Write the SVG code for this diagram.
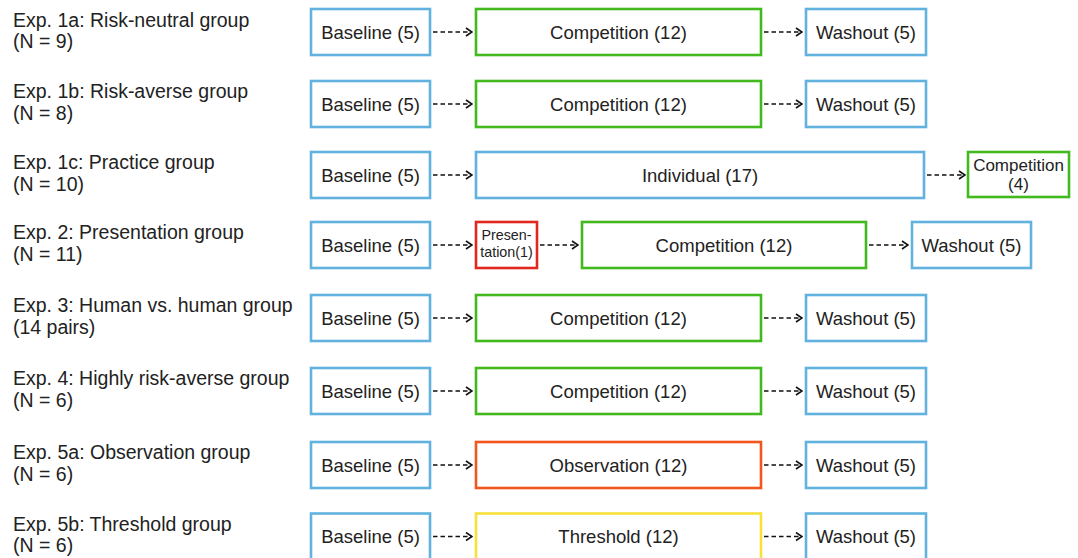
<svg xmlns="http://www.w3.org/2000/svg" width="1078" height="558" viewBox="0 0 1078 558">
<defs>
<marker id="arr" viewBox="0 0 10 10" refX="9" refY="5" markerWidth="10" markerHeight="10" markerUnits="userSpaceOnUse" orient="auto">
<path d="M3,1 L9,5 L3,9" fill="none" stroke="#111" stroke-width="1.6"/>
</marker>
<style>
text{font-family:"Liberation Sans",Arial,sans-serif;fill:#222}
.lab{font-size:19.5px}
.bt{font-size:18.5px;text-anchor:middle}
.sm{font-size:14.3px;text-anchor:middle}
.cs{font-size:17px;text-anchor:middle}
rect{fill:#fff;stroke-width:2.6}
.b{stroke:#62b2e0}
.g{stroke:#42ba1e}
.r{stroke:#e0281e}
.o{stroke:#f2561e}
.y{stroke:#f6e23a}
.c line{stroke:#111;stroke-width:1.6;stroke-dasharray:4.5 3;marker-end:url(#arr)}
</style>
</defs>

<g id="row1">
<text class="lab" x="13" y="27">Exp. 1a: Risk-neutral group</text>
<text class="lab" x="13" y="48">(N = 9)</text>
<g id="r1-baseline"><rect class="b" x="311" y="9" width="119" height="46"/><text class="bt" x="370.5" y="38.5">Baseline (5)</text></g>
<g id="r1-comp"><rect class="g" x="476" y="9" width="285" height="46"/><text class="bt" x="618.5" y="38.5">Competition (12)</text></g>
<g id="r1-wash"><rect class="b" x="806" y="9" width="120" height="46"/><text class="bt" x="866" y="38.5">Washout (5)</text></g>
</g>

<g id="row2">
<text class="lab" x="13" y="98">Exp. 1b: Risk-averse group</text>
<text class="lab" x="13" y="119.5">(N = 8)</text>
<g id="r2-baseline"><rect class="b" x="311" y="81" width="119" height="46"/><text class="bt" x="370.5" y="110.5">Baseline (5)</text></g>
<g id="r2-comp"><rect class="g" x="476" y="81" width="285" height="46"/><text class="bt" x="618.5" y="110.5">Competition (12)</text></g>
<g id="r2-wash"><rect class="b" x="806" y="81" width="120" height="46"/><text class="bt" x="866" y="110.5">Washout (5)</text></g>
</g>

<g id="row3">
<text class="lab" x="13" y="169">Exp. 1c: Practice group</text>
<text class="lab" x="13" y="190.5">(N = 10)</text>
<g id="r3-baseline"><rect class="b" x="311" y="152" width="119" height="46"/><text class="bt" x="370.5" y="181.5">Baseline (5)</text></g>
<g id="r3-indiv"><rect class="b" x="476" y="152" width="448" height="46"/><text class="bt" x="700" y="181.5">Individual (17)</text></g>
<g id="r3-comp"><rect class="g" x="968" y="152" width="101" height="45"/><text class="cs" x="1018.5" y="171">Competition</text><text class="cs" x="1018.5" y="190">(4)</text></g>
</g>

<g id="row4">
<text class="lab" x="13" y="239">Exp. 2: Presentation group</text>
<text class="lab" x="13" y="260.5">(N = 11)</text>
<g id="r4-baseline"><rect class="b" x="311" y="222" width="119" height="46"/><text class="bt" x="370.5" y="251.5">Baseline (5)</text></g>
<g id="r4-pres"><rect class="r" x="476" y="222" width="61" height="46"/><text class="sm" x="506.5" y="239.5">Presen-</text><text class="sm" x="506.5" y="257">tation(1)</text></g>
<g id="r4-comp"><rect class="g" x="582" y="222" width="284" height="46"/><text class="bt" x="724" y="251.5">Competition (12)</text></g>
<g id="r4-wash"><rect class="b" x="912" y="222" width="119" height="46"/><text class="bt" x="971.5" y="251.5">Washout (5)</text></g>
</g>

<g id="row5">
<text class="lab" x="13" y="312">Exp. 3: Human vs. human group</text>
<text class="lab" x="13" y="333.5">(14 pairs)</text>
<g id="r5-baseline"><rect class="b" x="311" y="295" width="119" height="46"/><text class="bt" x="370.5" y="324.5">Baseline (5)</text></g>
<g id="r5-comp"><rect class="g" x="476" y="295" width="285" height="46"/><text class="bt" x="618.5" y="324.5">Competition (12)</text></g>
<g id="r5-wash"><rect class="b" x="806" y="295" width="120" height="46"/><text class="bt" x="866" y="324.5">Washout (5)</text></g>
</g>

<g id="row6">
<text class="lab" x="13" y="385">Exp. 4: Highly risk-averse group</text>
<text class="lab" x="13" y="406.5">(N = 6)</text>
<g id="r6-baseline"><rect class="b" x="311" y="368" width="119" height="46"/><text class="bt" x="370.5" y="397.5">Baseline (5)</text></g>
<g id="r6-comp"><rect class="g" x="476" y="368" width="285" height="46"/><text class="bt" x="618.5" y="397.5">Competition (12)</text></g>
<g id="r6-wash"><rect class="b" x="806" y="368" width="120" height="46"/><text class="bt" x="866" y="397.5">Washout (5)</text></g>
</g>

<g id="row7">
<text class="lab" x="13" y="459">Exp. 5a: Observation group</text>
<text class="lab" x="13" y="480.5">(N = 6)</text>
<g id="r7-baseline"><rect class="b" x="311" y="442" width="119" height="46"/><text class="bt" x="370.5" y="471.5">Baseline (5)</text></g>
<g id="r7-obs"><rect class="o" x="476" y="442" width="285" height="46"/><text class="bt" x="618.5" y="471.5">Observation (12)</text></g>
<g id="r7-wash"><rect class="b" x="806" y="442" width="120" height="46"/><text class="bt" x="866" y="471.5">Washout (5)</text></g>
</g>

<g id="row8">
<text class="lab" x="13" y="530.5">Exp. 5b: Threshold group</text>
<text class="lab" x="13" y="552">(N = 6)</text>
<g id="r8-baseline"><rect class="b" x="311" y="513.5" width="119" height="46"/><text class="bt" x="370.5" y="543">Baseline (5)</text></g>
<g id="r8-thr"><rect class="y" x="476" y="513.5" width="285" height="46"/><text class="bt" x="618.5" y="543">Threshold (12)</text></g>
<g id="r8-wash"><rect class="b" x="806" y="513.5" width="120" height="46"/><text class="bt" x="866" y="543">Washout (5)</text></g>
</g>

<g id="connectors" class="c">
<line x1="433" y1="32" x2="472" y2="32"/>
<line x1="764" y1="32" x2="802" y2="32"/>
<line x1="433" y1="104" x2="472" y2="104"/>
<line x1="764" y1="104" x2="802" y2="104"/>
<line x1="433" y1="175" x2="472" y2="175"/>
<line x1="927" y1="175" x2="965" y2="175"/>
<line x1="433" y1="245" x2="472" y2="245"/>
<line x1="540" y1="245" x2="578" y2="245"/>
<line x1="869" y1="245" x2="908" y2="245"/>
<line x1="433" y1="318" x2="472" y2="318"/>
<line x1="764" y1="318" x2="802" y2="318"/>
<line x1="433" y1="391" x2="472" y2="391"/>
<line x1="764" y1="391" x2="802" y2="391"/>
<line x1="433" y1="465" x2="472" y2="465"/>
<line x1="764" y1="465" x2="802" y2="465"/>
<line x1="433" y1="536.5" x2="472" y2="536.5"/>
<line x1="764" y1="536.5" x2="802" y2="536.5"/>
</g>
</svg>
